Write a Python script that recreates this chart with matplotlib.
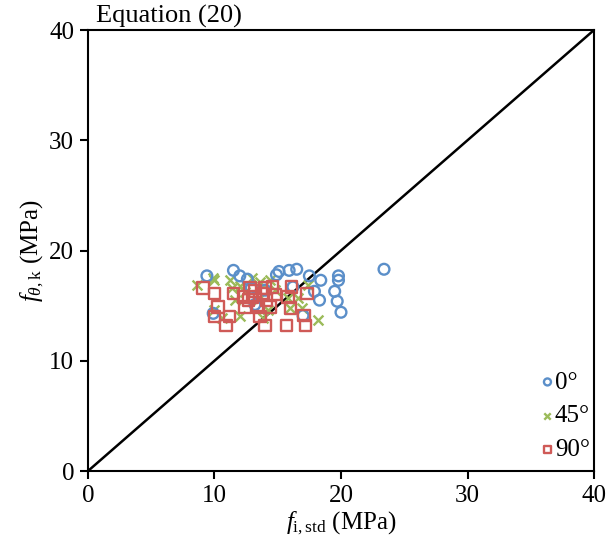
import matplotlib
matplotlib.use("Agg")
import matplotlib.pyplot as plt

plt.rcParams['font.family'] = ['Liberation Serif', 'DejaVu Serif']
plt.rcParams['mathtext.fontset'] = 'custom'
plt.rcParams['mathtext.rm'] = 'Liberation Serif'
plt.rcParams['mathtext.it'] = 'Liberation Serif:italic'

# 0 degree series (f_i,std, f_0,k)
x0 = [9.4, 11.5, 12.0, 12.6, 14.9, 15.1, 15.9, 16.5, 17.5, 18.4, 19.8, 19.8,
      16.2, 17.9, 19.5, 18.3, 19.7, 20.0, 23.4, 17.0, 9.9, 13.2, 14.0, 12.9]
y0 = [17.7, 18.2, 17.7, 17.4, 17.8, 18.1, 18.2, 18.3, 17.7, 17.3, 17.7, 17.3,
      16.7, 16.3, 16.3, 15.5, 15.4, 14.4, 18.3, 14.1, 14.3, 15.1, 16.4, 16.6]

# 45 degree series
x45 = [8.6, 10.0, 11.2, 11.4, 10.6, 13.8, 13.0, 17.4, 16.6, 15.8, 16.9, 18.2,
       16.0, 12.0, 13.6, 14.4, 12.4, 13.4, 14.8, 11.6, 14.2, 10.0, 12.0, 9.9]
y45 = [16.9, 17.3, 17.3, 16.6, 13.9, 13.9, 17.5, 16.9, 15.7, 15.7, 14.8, 13.7,
       14.8, 16.8, 17.1, 17.3, 16.2, 15.5, 16.4, 15.5, 14.6, 14.6, 14.1, 17.5]

# 90 degree series
x90 = [9.1, 10.0, 11.5, 10.3, 10.0, 11.2, 10.9, 12.8, 14.0, 14.6, 16.1, 12.3,
       13.0, 14.8, 15.8, 12.4, 13.4, 14.4, 16.0, 13.6, 14.0, 15.7, 17.3, 17.1,
       17.2, 13.2, 13.8, 12.7, 14.1]
y90 = [16.6, 16.1, 16.1, 14.9, 14.0, 14.0, 13.2, 16.6, 16.6, 16.7, 16.7, 15.8,
       15.8, 16.0, 15.8, 14.9, 14.9, 14.9, 14.8, 14.0, 13.2, 13.2, 16.1, 14.1,
       13.2, 16.3, 16.1, 15.5, 15.5]

fig = plt.figure(figsize=(6.08, 5.54), dpi=100)
ax = fig.add_axes([0.1447, 0.1498, 0.8323, 0.796])

ax.plot([0, 40], [0, 40], color='black', linewidth=1.8, zorder=1)
ax.scatter(x0, y0, marker='o', s=60, facecolors='none', edgecolors='#5B8FC9',
           linewidths=1.7, label='0°', zorder=3)
ax.scatter(x45, y45, marker='x', s=50, color='#9BBB59', linewidths=1.7,
           label='45°', zorder=2)
ax.scatter(x90, y90, marker='s', s=70, facecolors='none', edgecolors='#CF5A57',
           linewidths=1.7, label='90°', zorder=4)

ax.set_xlim(0, 40)
ax.set_ylim(0, 40)
ax.set_xticks([0, 10, 20, 30, 40])
ax.set_yticks([0, 10, 20, 30, 40])
ax.tick_params(direction='out', length=6, width=1.5, labelsize=18, pad=4)
for s in ax.spines.values():
    s.set_linewidth(1.5)

ax.set_xlabel(r'$f_{\mathrm{i,std}}$ (MPa)', fontsize=18, labelpad=2)
ax.set_ylabel(r'$f_{\theta,\mathrm{k}}$ (MPa)', fontsize=18, labelpad=2)
fig.text(0.158, 0.97, 'Equation (20)', fontsize=19, ha='left', va='center')

ax.legend(loc='lower right', bbox_to_anchor=(1.012, 0.0), frameon=False,
          fontsize=18, handletextpad=-0.3, handlelength=1.2, labelspacing=0.45,
          markerscale=0.65, borderaxespad=0.1, borderpad=0.3)

fig.savefig('out.png', dpi=100)
